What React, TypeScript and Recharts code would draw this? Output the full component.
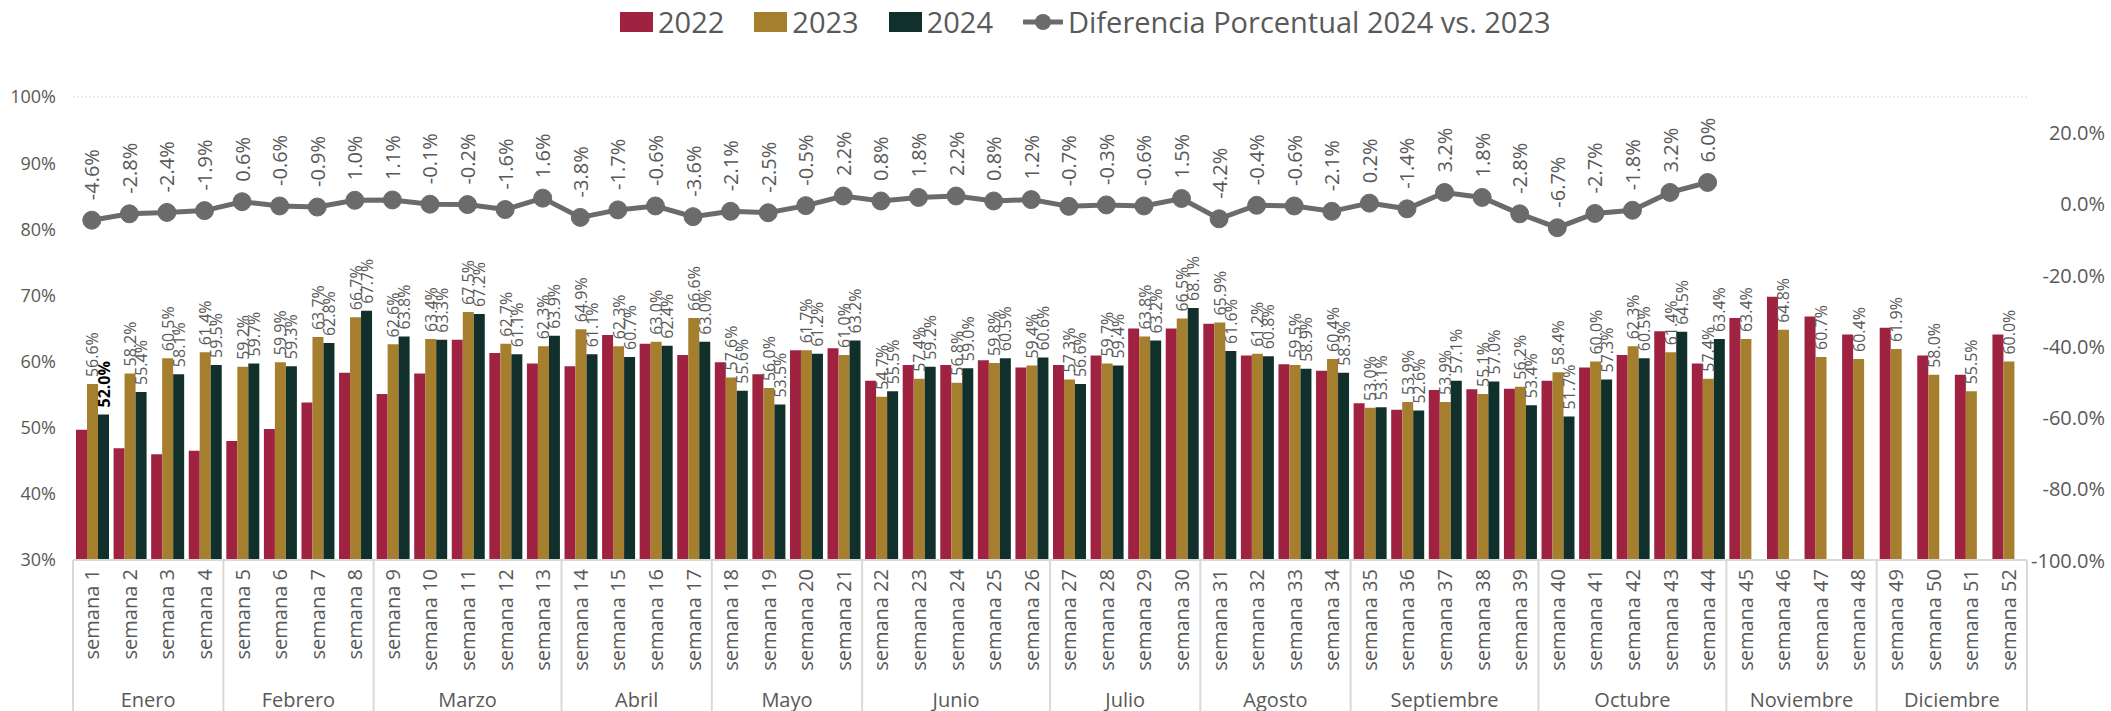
import React from 'react';
import { ComposedChart, Bar, Line, XAxis, YAxis, CartesianGrid, LabelList } from 'recharts';

const weeks = [
  'semana 1', 'semana 2', 'semana 3', 'semana 4', 'semana 5', 'semana 6', 'semana 7', 'semana 8',
  'semana 9', 'semana 10', 'semana 11', 'semana 12', 'semana 13', 'semana 14', 'semana 15', 'semana 16',
  'semana 17', 'semana 18', 'semana 19', 'semana 20', 'semana 21', 'semana 22', 'semana 23', 'semana 24',
  'semana 25', 'semana 26', 'semana 27', 'semana 28', 'semana 29', 'semana 30', 'semana 31', 'semana 32',
  'semana 33', 'semana 34', 'semana 35', 'semana 36', 'semana 37', 'semana 38', 'semana 39', 'semana 40',
  'semana 41', 'semana 42', 'semana 43', 'semana 44', 'semana 45', 'semana 46', 'semana 47', 'semana 48',
  'semana 49', 'semana 50', 'semana 51', 'semana 52',
];

const monthNames = ['Enero', 'Febrero', 'Marzo', 'Abril', 'Mayo', 'Junio', 'Julio', 'Agosto', 'Septiembre', 'Octubre', 'Noviembre', 'Diciembre'];
const monthWeekCounts = [4, 4, 5, 4, 4, 5, 4, 4, 5, 5, 4, 4];

const values2022 = [
  49.7, 46.9, 46.0, 46.5, 48.0, 49.8, 53.8, 58.3, 55.1, 58.2, 63.3, 61.3, 59.7,
  59.3, 64.0, 62.7, 61.0, 59.9, 58.1, 61.7, 62.0, 57.1, 59.5, 59.5, 60.2, 59.1,
  59.5, 60.9, 65.0, 65.0, 65.7, 60.9, 59.6, 58.6, 53.7, 52.7, 55.7, 55.8, 55.9,
  57.1, 59.1, 61.0, 64.6, 59.7, 66.6, 69.8, 66.8, 64.1, 65.1, 60.9, 58.0, 64.1,
];
const values2023 = [
  56.6, 58.2, 60.5, 61.4, 59.2, 59.9, 63.7, 66.7, 62.6, 63.4, 67.5, 62.7, 62.3,
  64.9, 62.3, 63.0, 66.6, 57.6, 56.0, 61.7, 61.0, 54.7, 57.4, 56.8, 59.8, 59.4,
  57.3, 59.7, 63.8, 66.5, 65.9, 61.2, 59.5, 60.4, 53.0, 53.9, 53.9, 55.1, 56.2,
  58.4, 60.0, 62.3, 61.4, 57.4, 63.4, 64.8, 60.7, 60.4, 61.9, 58.0, 55.5, 60.0,
];
const values2024 = [
  52.0, 55.4, 58.1, 59.5, 59.7, 59.3, 62.8, 67.7, 63.8, 63.3, 67.2, 61.1, 63.9,
  61.1, 60.7, 62.4, 63.0, 55.6, 53.5, 61.2, 63.2, 55.5, 59.2, 59.0, 60.5, 60.6,
  56.6, 59.4, 63.2, 68.1, 61.6, 60.8, 58.9, 58.3, 53.1, 52.6, 57.1, 57.0, 53.4,
  51.7, 57.3, 60.5, 64.5, 63.4, null, null, null, null, null, null, null, null,
];
const diff2024vs2023 = [
  -4.6, -2.8, -2.4, -1.9, 0.6, -0.6, -0.9, 1.0, 1.1, -0.1, -0.2, -1.6, 1.6,
  -3.8, -1.7, -0.6, -3.6, -2.1, -2.5, -0.5, 2.2, 0.8, 1.8, 2.2, 0.8, 1.2,
  -0.7, -0.3, -0.6, 1.5, -4.2, -0.4, -0.6, -2.1, 0.2, -1.4, 3.2, 1.8, -2.8,
  -6.7, -2.7, -1.8, 3.2, 6.0, null, null, null, null, null, null, null, null,
];
const highlighted2024Week = 'semana 1';

const leftTicks = [30, 40, 50, 60, 70, 80, 90, 100];
const rightTicks = [-100, -80, -60, -40, -20, 0, 20];

const C2022 = '#A02241';
const C2023 = '#A67F2E';
const C2024 = '#12302B';
const CLINE = '#6B6B6B';
const TEXT = '#595959';
const GRID = '#D9D9D9';
const FONT = '"Open Sans", sans-serif';

const W = 2111;
const H = 711;
const LEFT_W = 73;
const RIGHT_W = 84;
const TOP = 97;
const XAXIS_H = 151;
const BAND = (W - LEFT_W - RIGHT_W) / weeks.length;

const data = weeks.map((week, i) => ({
  week,
  y2022: values2022[i],
  y2023: values2023[i],
  y2024: values2024[i],
  diff: diff2024vs2023[i],
}));

// first week index of each month
const monthStarts: number[] = [];
monthWeekCounts.reduce((acc, n) => {
  monthStarts.push(acc);
  return acc + n;
}, 0);

const box = (p: any) => {
  const vb = p.viewBox ?? p;
  return { x: Number(vb.x ?? p.x), y: Number(vb.y ?? p.y), w: Number(vb.width ?? p.width ?? 0) };
};

const BarLabel = (p: any) => {
  if (p.value == null) return null;
  const { x, y, w } = box(p);
  const cx = x + w / 2;
  const ty = y - 7;
  const hl = p.highlight && weeks[p.index] === highlighted2024Week;
  return (
    <text
      x={cx}
      y={ty}
      transform={`rotate(-90 ${cx} ${ty})`}
      textAnchor="start"
      dominantBaseline="central"
      fontFamily={FONT}
      fontSize={16}
      fontWeight={hl ? 700 : 400}
      fill={hl ? '#000000' : TEXT}
    >
      {Number(p.value).toFixed(1)}%
    </text>
  );
};

const LineLabel = (p: any) => {
  if (p.value == null) return null;
  const { x, y, w } = box(p);
  const cx = x + w / 2;
  const ty = y - 20;
  return (
    <text
      x={cx}
      y={ty}
      transform={`rotate(-90 ${cx} ${ty})`}
      textAnchor="start"
      dominantBaseline="central"
      fontFamily={FONT}
      fontSize={20}
      fill={TEXT}
    >
      {Number(p.value).toFixed(1)}%
    </text>
  );
};

const RightTick = (p: any) => {
  const { x, y, payload } = p;
  return (
    <text x={x + 78} y={y} textAnchor="end" dominantBaseline="central" fontFamily={FONT} fontSize={20} fill={TEXT}>
      {Number(payload.value).toFixed(1)}%
    </text>
  );
};

const WeekTick = (p: any) => {
  const { x, y, payload } = p;
  const i = payload.index;
  const m = monthStarts.indexOf(i);
  const ty = y + 9;
  return (
    <g>
      <text
        x={x}
        y={ty}
        transform={`rotate(-90 ${x} ${ty})`}
        textAnchor="end"
        dominantBaseline="central"
        fontFamily={FONT}
        fontSize={20}
        fill={TEXT}
      >
        {payload.value}
      </text>
      {m >= 0 && (
        <>
          <line x1={x - BAND / 2} x2={x - BAND / 2} y1={y} y2={y + XAXIS_H} stroke={GRID} strokeWidth={2} />
          <text
            x={x - BAND / 2 + (monthWeekCounts[m] * BAND) / 2}
            y={y + 139}
            textAnchor="middle"
            dominantBaseline="central"
            fontFamily={FONT}
            fontSize={20}
            fill={TEXT}
          >
            {monthNames[m]}
          </text>
        </>
      )}
      {i === weeks.length - 1 && (
        <line x1={x + BAND / 2} x2={x + BAND / 2} y1={y} y2={y + XAXIS_H} stroke={GRID} strokeWidth={2} />
      )}
    </g>
  );
};

const legendItems = [
  { name: '2022', color: C2022 },
  { name: '2023', color: C2023 },
  { name: '2024', color: C2024 },
];

const ChartLegend = () => (
  <div
    style={{
      position: 'absolute',
      top: 2,
      left: 620,
      display: 'flex',
      alignItems: 'center',
      fontFamily: FONT,
      fontSize: 29,
      color: TEXT,
      lineHeight: '40px',
    }}
  >
    {legendItems.map((it) => (
      <div key={it.name} style={{ display: 'flex', alignItems: 'center', marginRight: 30 }}>
        <span style={{ width: 33, height: 20, background: it.color, display: 'inline-block', marginRight: 5 }} />
        <span>{it.name}</span>
      </div>
    ))}
    <div style={{ display: 'flex', alignItems: 'center' }}>
      <svg width={40} height={20} style={{ marginRight: 5 }}>
        <line x1={1} x2={39} y1={10} y2={10} stroke={CLINE} strokeWidth={5} strokeLinecap="round" />
        <circle cx={20} cy={10} r={8} fill={CLINE} />
      </svg>
      <span>Diferencia Porcentual 2024 vs. 2023</span>
    </div>
  </div>
);

export default function App() {
  return (
    <div style={{ position: 'relative', width: W, height: H, background: '#fff' }}>
      <style>{'body{margin:0}'}</style>
      <ChartLegend />
      <ComposedChart
        width={W}
        height={H}
        data={data}
        margin={{ top: TOP, right: 0, bottom: 0, left: 0 }}
        barCategoryGap="8%"
        barGap={0}
      >
        <CartesianGrid vertical={false} stroke={GRID} strokeDasharray="2 2" />
        <XAxis
          dataKey="week"
          interval={0}
          height={XAXIS_H}
          tickLine={false}
          tickSize={0}
          tickMargin={0}
          axisLine={{ stroke: GRID, strokeWidth: 2 }}
          tick={(p: any) => <WeekTick {...p} />}
        />
        <YAxis
          yAxisId="left"
          width={LEFT_W}
          domain={[30, 100]}
          ticks={leftTicks}
          allowDataOverflow
          tickFormatter={(v: number) => `${v}%`}
          axisLine={false}
          tickLine={false}
          tickMargin={11}
          tick={{ fill: TEXT, fontSize: 18, fontFamily: FONT }}
        />
        <YAxis
          yAxisId="right"
          orientation="right"
          width={RIGHT_W}
          domain={[-100, 30]}
          ticks={rightTicks}
          axisLine={false}
          tickLine={false}
          tickSize={0}
          tickMargin={0}
          tick={(p: any) => <RightTick {...p} />}
        />
        <Bar yAxisId="left" dataKey="y2022" fill={C2022} isAnimationActive={false} />
        <Bar yAxisId="left" dataKey="y2023" fill={C2023} isAnimationActive={false}>
          <LabelList dataKey="y2023" content={(p: any) => <BarLabel {...p} />} />
        </Bar>
        <Bar yAxisId="left" dataKey="y2024" fill={C2024} isAnimationActive={false}>
          <LabelList dataKey="y2024" content={(p: any) => <BarLabel {...p} highlight />} />
        </Bar>
        <Line
          yAxisId="right"
          dataKey="diff"
          type="linear"
          stroke={CLINE}
          strokeWidth={5}
          dot={{ r: 9, fill: CLINE, stroke: CLINE, strokeWidth: 1 }}
          activeDot={false}
          isAnimationActive={false}
        >
          <LabelList dataKey="diff" content={(p: any) => <LineLabel {...p} />} />
        </Line>
      </ComposedChart>
    </div>
  );
}
